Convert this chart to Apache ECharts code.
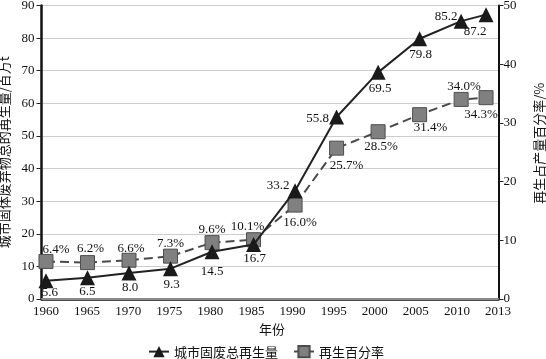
<!DOCTYPE html>
<html><head><meta charset="utf-8">
<script src="https://cdn.jsdelivr.net/npm/echarts@6/dist/echarts.min.js"></script>
<style>html,body{margin:0;padding:0;background:#fff}#c{width:546px;height:359px}</style>
</head><body><div id="c"></div>
<script>
// ---- data ----
const years = [1960, 1965, 1970, 1975, 1980, 1985, 1990, 1995, 2000, 2005, 2010, 2013];
const yearLabels = ['1960', '1965', '1970', '1975', '1980', '1985', '1990', '1995', '2000', '2005', '2010', '2013'];
const recycledAmount = [5.6, 6.5, 8.0, 9.3, 14.5, 16.7, 33.2, 55.8, 69.5, 79.8, 85.2, 87.2];
const recycledRate = [6.4, 6.2, 6.6, 7.3, 9.6, 10.1, 16.0, 25.7, 28.5, 31.4, 34.0, 34.3];
const amountName = '城市固废总再生量';
const rateName = '再生百分率';
const leftAxisTitle = '城市固体废弃物总的再生量/百万t';
const rightAxisTitle = '再生占产量百分率/%';
const xAxisTitle = '年份';

// ---- label placement (style only) ----
const amountLabelOffset = [[4,12],[0,14],[1,15],[1,16],[0,20],[1,14],[-17,-5],[-19,2],[2,16],[1,16],[-15,-5],[-11,17]];
const rateLabelOffset = [[10,-12],[3,-14],[2,-12],[0,-13],[0,-13],[-6,-13],[5,17],[10,17],[3,15],[11,13],[3,-13],[-5,17]];

const serif = 'Liberation Serif';
const cjk = 'Noto Sans CJK SC';
const ink = '#111';

const chart = echarts.init(document.getElementById('c'), null, {renderer: 'canvas'});
const G = {top: 5.5, bottom: 60};
const dataMin = 1959.46, dataMax = 2014.5;

const amountData = years.map((y, i) => ({
  value: [y, recycledAmount[i]],
  label: {offset: amountLabelOffset[i]}
}));
const rateData = years.map((y, i) => ({
  value: [y, recycledRate[i]],
  label: {offset: rateLabelOffset[i]}
}));

chart.setOption({
  animation: false,
  backgroundColor: '#fff',
  grid: [
    {left: 41.5, right: 47.5, top: G.top, bottom: G.bottom, outerBoundsMode: 'none'},
    {left: 46, right: 48, top: G.top, bottom: G.bottom, outerBoundsMode: 'none'}
  ],
  xAxis: [
    {type: 'value', gridIndex: 0, min: dataMin, max: dataMax, position: 'bottom',
     axisLine: {show: true, lineStyle: {color: '#111', width: 2.5}},
     axisTick: {show: false}, axisLabel: {show: false}, splitLine: {show: false}},
    {type: 'value', gridIndex: 0, min: dataMin, max: dataMax, position: 'top',
     axisLine: {show: true, lineStyle: {color: '#8a8a8a', width: 2}},
     axisTick: {show: false}, axisLabel: {show: false}, splitLine: {show: false}},
    {type: 'category', gridIndex: 1, data: yearLabels, boundaryGap: false, position: 'bottom',
     axisLine: {show: false}, axisTick: {show: false}, splitLine: {show: false},
     axisLabel: {show: true, interval: 0, margin: 6, color: ink, fontFamily: serif, fontSize: 13,
                 showMinLabel: true, showMaxLabel: true, hideOverlap: false},
     name: xAxisTitle, nameLocation: 'middle', nameGap: 21,
     nameTextStyle: {color: ink, fontFamily: cjk, fontSize: 13}}
  ],
  yAxis: [
    {type: 'value', gridIndex: 0, min: 0, max: 90, interval: 10, position: 'left',
     axisLine: {show: true, lineStyle: {color: '#111', width: 2.5}},
     axisTick: {show: true, length: 5, lineStyle: {color: '#222', width: 1}},
     axisLabel: {margin: 7, color: ink, fontFamily: serif, fontSize: 13, showMinLabel: true, showMaxLabel: true},
     splitLine: {show: true, lineStyle: {color: '#9a9a9a', type: 'dotted', width: 1}},
     name: leftAxisTitle, nameLocation: 'middle', nameGap: 24, nameRotate: 90,
     nameTextStyle: {color: ink, fontFamily: cjk, fontSize: 13}},
    {type: 'value', gridIndex: 0, min: 0, max: 50, interval: 10, position: 'right',
     axisLine: {show: true, lineStyle: {color: '#111', width: 2}},
     axisTick: {show: true, length: 5, lineStyle: {color: '#222', width: 1}},
     axisLabel: {margin: 5, color: ink, fontFamily: serif, fontSize: 13, showMinLabel: true, showMaxLabel: true},
     splitLine: {show: false},
     name: rightAxisTitle, nameLocation: 'middle', nameGap: 34, nameRotate: 90,
     nameTextStyle: {color: ink, fontFamily: cjk, fontSize: 13, padding: [0, 0, 0, 18]}},
    {type: 'value', gridIndex: 1, show: false}
  ],
  legend: {
    data: [amountName, rateName],
    left: 143, top: 340, itemWidth: 20, itemHeight: 14, itemGap: 15,
    textStyle: {color: ink, fontFamily: cjk, fontSize: 13}
  },
  series: [
    {name: rateName, type: 'line', xAxisIndex: 0, yAxisIndex: 1, data: rateData,
     symbol: 'rect', symbolSize: 14,
     itemStyle: {color: '#808080', borderColor: '#4d4d4d', borderWidth: 1},
     lineStyle: {color: '#4a4a4a', width: 2, type: [9, 5]},
     label: {show: true, position: 'inside', color: ink, fontFamily: serif, fontSize: 13,
             formatter: p => p.value[1].toFixed(1) + '%'},
     z: 2},
    {name: amountName, type: 'line', xAxisIndex: 0, yAxisIndex: 0, data: amountData,
     symbol: 'triangle', symbolSize: 15,
     itemStyle: {color: '#1a1a1a'},
     lineStyle: {color: '#222', width: 2},
     label: {show: true, position: 'inside', color: ink, fontFamily: serif, fontSize: 13,
             formatter: p => p.value[1].toFixed(1)},
     z: 3}
  ]
});
</script>
</body></html>
